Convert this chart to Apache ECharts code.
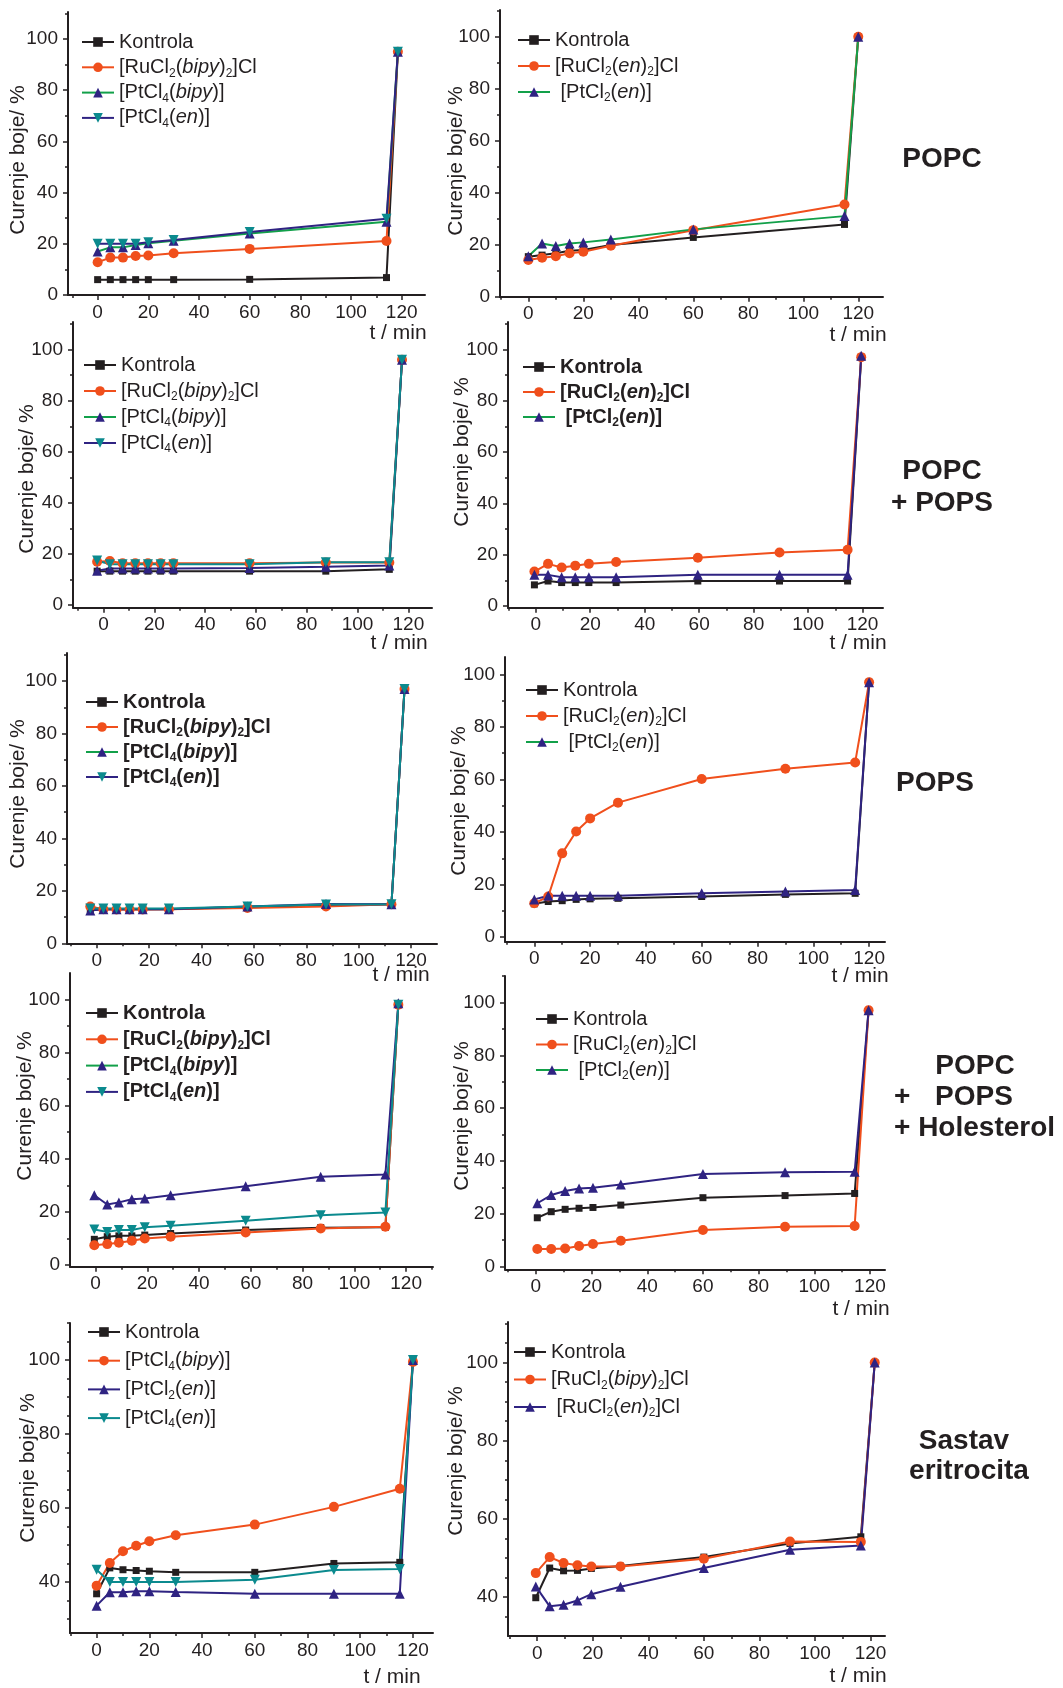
<!DOCTYPE html>
<html>
<head>
<meta charset="utf-8">
<script src="https://cdn.jsdelivr.net/npm/echarts@6/dist/echarts.min.js"></script>
<style>
html, body { margin: 0; padding: 0; background: #ffffff; }
#chart { width: 1063px; height: 1688px; }
</style>
</head>
<body>
<div id="chart"></div>
<script>
// ---- tick values ----
const xTickLabels = [0, 20, 40, 60, 80, 100, 120];
const xMinorTicks = [-10, 10, 30, 50, 70, 90, 110, 130];
const yTickLabels = [0, 20, 40, 60, 80, 100];
const yMinorTicks = [10, 30, 50, 70, 90, 110];
const yTickLabelsRbc = [40, 60, 80, 100];
const yMinorTicksRbc = [30, 35, 45, 50, 55, 65, 70, 75, 85, 90, 95, 105, 110];

// ---- POPC ----
const tPopcA = [0, 5, 10, 15, 20, 30, 60, 114, 118.5];
const popcA_kontrola = [6, 6, 6, 6, 6, 6, 6.1, 6.8, 95];
const popcA_ruBipy = [12.8, 14.6, 14.6, 15.2, 15.4, 16.3, 18.0, 21.1, 95];
const popcA_ptCl4Bipy = [17.0, 18.6, 18.6, 19.5, 20.2, 21.2, 24.0, 28.6, 95];
const popcA_ptCl4En = [20.0, 20.0, 20.0, 20.0, 20.6, 21.5, 24.6, 29.8, 95];

const tPopcB = [0, 5, 10, 15, 20, 30, 60, 115, 120];
const popcB_kontrola = [15.4, 16.0, 16.7, 17.7, 18.0, 19.9, 22.8, 27.8, 100];
const popcB_ruEn = [14.1, 15.0, 15.6, 16.7, 17.3, 19.6, 25.6, 35.5, 100];
const popcB_ptCl2En = [15.6, 20.5, 19.5, 20.5, 20.9, 22.0, 25.9, 31.0, 100];

// ---- POPC + POPS ----
const tMixA = [-2.5, 2.5, 7.5, 12.5, 17.5, 22.5, 27.5, 57.5, 87.5, 112.5, 117.5];
const mixA_kontrola = [13.3, 13.3, 13.3, 13.3, 13.3, 13.3, 13.3, 13.3, 13.3, 14.0, 96];
const mixA_ruBipy = [17.0, 17.3, 16.4, 16.4, 16.4, 16.4, 16.4, 16.4, 16.7, 16.7, 96];
const mixA_ptCl4Bipy = [13.5, 14.3, 14.3, 14.3, 14.3, 14.3, 14.3, 14.5, 15.0, 15.5, 96];
const mixA_ptCl4En = [17.5, 16.0, 16.0, 16.0, 16.0, 16.0, 16.0, 16.0, 16.8, 16.8, 96];

const tMixB = [-0.5, 4.5, 9.5, 14.5, 19.5, 29.5, 59.5, 89.5, 114.5, 119.5];
const mixB_kontrola = [8.2, 9.7, 9.1, 9.1, 9.1, 9.1, 9.7, 9.7, 9.7, 97];
const mixB_ruEn = [13.4, 16.4, 15.0, 15.7, 16.4, 17.1, 18.8, 20.8, 21.9, 97];
const mixB_ptCl2En = [12.1, 12.1, 11.2, 11.2, 11.2, 11.2, 12.1, 12.1, 12.1, 97.5];

// ---- POPS ----
const tPopsA = [-2.5, 2.5, 7.5, 12.5, 17.5, 27.5, 57.5, 87.5, 112.5, 117.5];
const popsA_kontrola = [12.8, 13.0, 13.0, 13.0, 13.0, 13.0, 13.8, 14.4, 14.9, 97];
const popsA_ruBipy = [14.0, 13.0, 12.9, 12.9, 12.9, 13.0, 13.5, 14.0, 14.9, 97];
const popsA_ptCl4Bipy = [12.5, 13.0, 13.0, 13.0, 13.0, 13.0, 14.0, 15.0, 14.9, 97];
const popsA_ptCl4En = [13.3, 13.3, 13.3, 13.3, 13.3, 13.3, 14.0, 14.8, 14.9, 97];

const tPopsB = [0, 5, 10, 15, 20, 30, 60, 90, 115, 120];
const popsB_kontrola = [12.7, 13.6, 13.9, 14.4, 14.6, 14.8, 15.5, 16.3, 16.7, 97];
const popsB_ruEn = [12.9, 15.5, 31.9, 40.2, 45.2, 51.2, 60.2, 64.1, 66.5, 97];
const popsB_ptCl2En = [14.4, 15.8, 15.8, 15.8, 15.8, 15.8, 16.7, 17.4, 18.0, 97];

// ---- POPC + POPS + Holesterol ----
const tHolA = [-0.5, 4.5, 9, 14, 19, 29, 58, 87, 112, 117];
const holA_kontrola = [9.7, 10.7, 11.0, 11.0, 11.3, 11.9, 13.2, 14.1, 14.2, 98];
const holA_ruBipy = [7.5, 7.9, 8.4, 9.2, 10.0, 10.7, 12.3, 13.8, 14.4, 98];
const holA_ptCl4Bipy = [26.3, 22.8, 23.6, 24.8, 25.1, 26.3, 29.7, 33.2, 34.1, 98.5];
const holA_ptCl4En = [13.4, 12.5, 13.2, 13.2, 14.2, 14.8, 16.7, 18.8, 19.8, 98];

const tHolB = [0.5, 5.5, 10.5, 15.5, 20.5, 30.5, 60, 89.5, 114.5, 119.5];
const holB_kontrola = [18.5, 20.8, 21.7, 22.1, 22.4, 23.3, 26.1, 26.9, 27.7, 97];
const holB_ruEn = [6.7, 6.7, 6.9, 7.8, 8.6, 9.8, 13.9, 15.1, 15.4, 97];
const holB_ptCl2En = [24.0, 27.1, 28.6, 29.6, 29.9, 31.1, 35.1, 35.7, 35.9, 97];

// ---- Sastav eritrocita ----
const tRbcA = [0, 5, 10, 15, 20, 30, 60, 90, 115, 120];
const rbcA_kontrola = [36.8, 43.8, 43.3, 43.1, 42.9, 42.6, 42.6, 45.0, 45.3, 100];
const rbcA_ptCl4Bipy = [39.0, 45.1, 48.3, 49.8, 51.0, 52.6, 55.5, 60.3, 65.2, 99.5];
const rbcA_ptCl2En = [33.6, 37.2, 37.2, 37.5, 37.5, 37.3, 36.8, 36.8, 36.8, 100];
const rbcA_ptCl4En = [43.3, 40.0, 40.0, 40.0, 40.0, 40.0, 40.6, 43.2, 43.5, 100];

const tRbcB = [-0.5, 4.5, 9.5, 14.5, 19.5, 30, 60, 91, 116.5, 121.5];
const rbcB_kontrola = [39.8, 47.4, 46.7, 46.8, 47.3, 47.9, 50.2, 53.7, 55.4, 100];
const rbcB_ruBipy = [46.1, 50.2, 48.7, 48.1, 47.8, 47.8, 49.8, 54.2, 54.1, 100];
const rbcB_ruEn = [42.7, 37.6, 38.0, 39.1, 40.7, 42.6, 47.4, 52.1, 53.2, 100];

// ---- styling ----
const FONT = '"Liberation Sans", Arial, Helvetica, sans-serif';
const DARK = '#231f20';
const ORANGE = '#f04f1c';
const GREEN = '#12a04a';
const NAVY = '#2f2382';
const TEAL = '#0b8a8e';

const MARKS = {
  kontrola: { line: DARK, mark: DARK, symbol: 'rect', size: 7 },
  ruOrange: { line: ORANGE, mark: ORANGE, symbol: 'circle', size: 10 },
  triGreen: { line: GREEN, mark: NAVY, symbol: 'triangle', size: 10 },
  triNavy: { line: NAVY, mark: NAVY, symbol: 'triangle', size: 10 },
  downNavy: { line: NAVY, mark: TEAL, symbol: 'triangle', rotate: 180, size: 10 },
  downTeal: { line: TEAL, mark: TEAL, symbol: 'triangle', rotate: 180, size: 10 }
};

const LABELS = {
  kontrola: 'Kontrola',
  ruBipy: '[RuCl{s|2}({i|bipy}){s|2}]Cl',
  ptCl4Bipy: '[PtCl{s|4}({i|bipy})]',
  ptCl4En: '[PtCl{s|4}({i|en})]',
  ruEn: '[RuCl{s|2}({i|en}){s|2}]Cl',
  ruEnSp: ' [RuCl{s|2}({i|en}){s|2}]Cl',
  ptCl2En: ' [PtCl{s|2}({i|en})]',
  ptCl2EnTight: '[PtCl{s|2}({i|en})]'
};

// one entry per panel: frame in pixels, axis ranges, legend box, curves
const panels = [
  { id: 'popcA', box: [68, 12, 425, 295], x: [-11.7, 129.2], y: [0, 110.5], rbc: false,
    legend: [81, 30, 1.3, 'normal'], yTitle: [18, 160], xTitle: [398, 333],
    curves: [['kontrola', tPopcA, popcA_kontrola, 'kontrola'],
             ['ruBipy', tPopcA, popcA_ruBipy, 'ruOrange'],
             ['ptCl4Bipy', tPopcA, popcA_ptCl4Bipy, 'triGreen'],
             ['ptCl4En', tPopcA, popcA_ptCl4En, 'downNavy']] },
  { id: 'popcB', box: [500, 10, 883, 296.7], x: [-10.3, 129], y: [0, 110.3], rbc: false,
    legend: [517, 28, 2, 'normal'], yTitle: [456, 161], xTitle: [858, 335],
    curves: [['kontrola', tPopcB, popcB_kontrola, 'kontrola'],
             ['ruEn', tPopcB, popcB_ruEn, 'ruOrange'],
             ['ptCl2En', tPopcB, popcB_ptCl2En, 'triGreen']] },
  { id: 'mixA', box: [73, 322, 432, 607.7], x: [-12, 129.3], y: [-1, 110.8], rbc: false,
    legend: [83, 353, 2, 'normal'], yTitle: [27, 479], xTitle: [399, 643],
    curves: [['kontrola', tMixA, mixA_kontrola, 'kontrola'],
             ['ruBipy', tMixA, mixA_ruBipy, 'ruOrange'],
             ['ptCl4Bipy', tMixA, mixA_ptCl4Bipy, 'triNavy', GREEN],
             ['ptCl4En', tMixA, mixA_ptCl4En, 'downTeal', NAVY]] },
  { id: 'mixB', box: [508, 322, 883, 607.7], x: [-10.2, 127.5], y: [-0.7, 110.7], rbc: false,
    legend: [522, 355, 1, 'bold'], yTitle: [462, 452], xTitle: [858, 643],
    curves: [['kontrola', tMixB, mixB_kontrola, 'kontrola'],
             ['ruEn', tMixB, mixB_ruEn, 'ruOrange'],
             ['ptCl2En', tMixB, mixB_ptCl2En, 'triNavy', GREEN]] },
  { id: 'popsA', box: [67, 653, 437, 943.3], x: [-11.4, 129.9], y: [0, 110.7], rbc: false,
    legend: [85, 690, 1, 'bold'], yTitle: [18, 794], xTitle: [401, 975],
    curves: [['kontrola', tPopsA, popsA_kontrola, 'kontrola'],
             ['ruBipy', tPopsA, popsA_ruBipy, 'ruOrange'],
             ['ptCl4Bipy', tPopsA, popsA_ptCl4Bipy, 'triNavy', GREEN],
             ['ptCl4En', tPopsA, popsA_ptCl4En, 'downTeal', NAVY]] },
  { id: 'popsB', box: [505, 657, 885, 941.7], x: [-10.5, 125.7], y: [-1.7, 106.6], rbc: false,
    legend: [525, 678, 2, 'normal'], yTitle: [459, 801], xTitle: [860, 976],
    curves: [['kontrola', tPopsB, popsB_kontrola, 'kontrola'],
             ['ruEn', tPopsB, popsB_ruEn, 'ruOrange'],
             ['ptCl2En', tPopsB, popsB_ptCl2En, 'triNavy', GREEN]] },
  { id: 'holA', box: [70, 973, 433, 1266.7], x: [-9.9, 130.4], y: [-0.6, 109.9], rbc: false,
    legend: [85, 1001, 2.3, 'bold'], yTitle: [25, 1106], xTitle: null,
    curves: [['kontrola', tHolA, holA_kontrola, 'kontrola'],
             ['ruBipy', tHolA, holA_ruBipy, 'ruOrange'],
             ['ptCl4Bipy', tHolA, holA_ptCl4Bipy, 'triNavy', GREEN],
             ['ptCl4En', tHolA, holA_ptCl4En, 'downTeal', NAVY]] },
  { id: 'holB', box: [505, 976, 885, 1269.3], x: [-11.1, 125.4], y: [-1, 110], rbc: false,
    legend: [535, 1007, 1.5, 'normal'], yTitle: [462, 1116], xTitle: [861, 1309],
    curves: [['kontrola', tHolB, holB_kontrola, 'kontrola'],
             ['ruEn', tHolB, holB_ruEn, 'ruOrange'],
             ['ptCl2En', tHolB, holB_ptCl2En, 'triNavy', GREEN]] },
  { id: 'rbcA', box: [70, 1323, 433, 1633], x: [-10.1, 127.6], y: [26.2, 110], rbc: true,
    legend: [87, 1320, 4.7, 'normal'], yTitle: [28, 1468], xTitle: [392, 1677],
    curves: [['kontrola', tRbcA, rbcA_kontrola, 'kontrola'],
             ['ptCl4Bipy', tRbcA, rbcA_ptCl4Bipy, 'ruOrange'],
             ['ptCl2EnTight', tRbcA, rbcA_ptCl2En, 'triNavy'],
             ['ptCl4En', tRbcA, rbcA_ptCl4En, 'downTeal']] },
  { id: 'rbcB', box: [508, 1322, 885, 1636], x: [-10.5, 125.2], y: [30, 110.4], rbc: true,
    legend: [513, 1340, 3.5, 'normal'], yTitle: [456, 1461], xTitle: [858, 1676],
    curves: [['kontrola', tRbcB, rbcB_kontrola, 'kontrola'],
             ['ruBipy', tRbcB, rbcB_ruBipy, 'ruOrange'],
             ['ruEnSp', tRbcB, rbcB_ruEn, 'triNavy']] }
];

const grids = [], xAxes = [], yAxes = [], series = [], legends = [], graphics = [];
const nameToLabel = {};

const axisText = { color: DARK, fontSize: 19, fontFamily: FONT };

panels.forEach((p, gi) => {
  const [l, t, r, b] = p.box;
  grids.push({ left: l, top: t, width: r - l, height: b - t, containLabel: false });

  const xMinor = xMinorTicks.filter(v => v > p.x[0] && v < p.x[1]);
  const yMajor = p.rbc ? yTickLabelsRbc : yTickLabels;
  const yMinor = (p.rbc ? yMinorTicksRbc : yMinorTicks).filter(v => v > p.y[0] && v <= p.y[1]);

  xAxes.push({
    type: 'value', gridIndex: gi, min: p.x[0], max: p.x[1], position: 'bottom',
    axisLine: { onZero: false, lineStyle: { color: DARK, width: 2 } },
    axisTick: { customValues: xTickLabels, length: 5, lineStyle: { color: DARK, width: 1.5 } },
    axisLabel: Object.assign({ customValues: xTickLabels, margin: 8 }, axisText),
    splitLine: { show: false }
  });
  xAxes.push({
    type: 'value', gridIndex: gi, min: p.x[0], max: p.x[1], position: 'bottom',
    axisLine: { show: false, onZero: false },
    axisTick: { customValues: xMinor, length: 3, lineStyle: { color: DARK, width: 1.5 } },
    axisLabel: { show: false },
    splitLine: { show: false }
  });
  yAxes.push({
    type: 'value', gridIndex: gi, min: p.y[0], max: p.y[1], position: 'left',
    axisLine: { show: true, onZero: false, lineStyle: { color: DARK, width: 2 } },
    axisTick: { show: true, customValues: yMajor, length: 5, lineStyle: { color: DARK, width: 1.5 } },
    axisLabel: Object.assign({ customValues: yMajor, margin: 10 }, axisText),
    splitLine: { show: false }
  });
  yAxes.push({
    type: 'value', gridIndex: gi, min: p.y[0], max: p.y[1], position: 'left',
    axisLine: { show: false, onZero: false },
    axisTick: { show: true, customValues: yMinor, length: 3, lineStyle: { color: DARK, width: 1.5 } },
    axisLabel: { show: false },
    splitLine: { show: false }
  });

  const legendData = [];
  p.curves.forEach(([key, times, values, markKey, legendLine]) => {
    const m = MARKS[markKey];
    const name = p.id + ':' + key;
    nameToLabel[name] = LABELS[key];
    series.push({
      type: 'line', name: name,
      xAxisIndex: gi * 2, yAxisIndex: gi * 2,
      data: times.map((tm, i) => [tm, values[i]]),
      symbol: m.symbol, symbolSize: m.size, symbolRotate: m.rotate || 0,
      showSymbol: true,
      lineStyle: { color: m.line, width: 2 },
      itemStyle: { color: m.mark, borderWidth: 0 },
      emphasis: { disabled: true },
      animation: false
    });
    const item = { name: name };
    if (legendLine) item.lineStyle = { color: legendLine };
    legendData.push(item);
  });

  const [lx, ly, gap, weight] = p.legend;
  legends.push({
    orient: 'vertical', left: lx, top: ly, padding: 0, itemGap: gap,
    itemWidth: 32, itemHeight: 12, selectedMode: false,
    data: legendData,
    formatter: n => nameToLabel[n],
    textStyle: {
      color: DARK, fontSize: 20, fontFamily: FONT, fontWeight: weight, lineHeight: 24,
      rich: {
        s: { fontSize: 12, fontFamily: FONT, fontWeight: weight, color: DARK, verticalAlign: 'bottom', lineHeight: 12 },
        i: { fontSize: 20, fontFamily: FONT, fontWeight: weight, color: DARK, fontStyle: 'italic', lineHeight: 24 }
      }
    }
  });

  graphics.push({
    type: 'text', x: p.yTitle[0], y: p.yTitle[1], rotation: Math.PI / 2,
    style: { text: 'Curenje boje/ %', fontSize: 21, fontFamily: FONT, fill: DARK, align: 'center', verticalAlign: 'middle' }
  });
  if (p.xTitle) {
    graphics.push({
      type: 'text', x: p.xTitle[0], y: p.xTitle[1],
      style: { text: 't / min', fontSize: 21, fontFamily: FONT, fill: DARK, align: 'center', verticalAlign: 'middle' }
    });
  }
});

// membrane names at the right edge
const sideText = (text, x, y, align) => ({
  type: 'text', x: x, y: y,
  style: { text: text, fontSize: 28, fontWeight: 'bold', fontFamily: FONT, fill: DARK, align: align || 'center', verticalAlign: 'middle' }
});
graphics.push(
  sideText('POPC', 942, 159),
  sideText('POPC', 942, 471),
  sideText('+ POPS', 942, 503),
  sideText('POPS', 935, 783),
  sideText('POPC', 975, 1066),
  sideText('+', 894, 1097, 'left'),
  sideText('POPS', 974, 1097),
  sideText('+ Holesterol', 894, 1128, 'left'),
  sideText('Sastav', 964, 1441),
  sideText('eritrocita', 969, 1471)
);

const chart = echarts.init(document.getElementById('chart'), null, { renderer: 'canvas' });
chart.setOption({
  animation: false,
  backgroundColor: '#ffffff',
  grid: grids,
  xAxis: xAxes,
  yAxis: yAxes,
  legend: legends,
  series: series,
  graphic: graphics
});
</script>
</body>
</html>
